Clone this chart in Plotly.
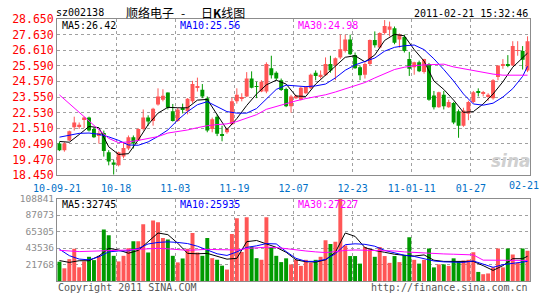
import plotly.graph_objects as go

# ---------------- data ----------------
x_labels = ["10-09-21", "10-18", "11-03", "11-19", "12-07", "12-23", "11-01-11", "01-27"]
x_label_pos = [-0.5, 11.5, 23.5, 35.5, 47.5, 59.5, 71.5, 83.5]
last_label = "02-21"
last_label_pos = 94.3
stock_code = "sz002138"

opens = [20.51, 20.08, 20.72, 21.57, 21.63, 22.10, 22.21, 21.47, 21.00, 21.21,
         19.94, 19.28, 19.09, 19.66, 20.19, 20.93, 20.72, 21.47, 22.21, 21.98,
         23.06, 23.38, 23.85, 22.63, 21.98, 22.80, 22.63, 23.27, 24.16, 24.02,
         23.48, 21.47, 22.27, 21.10, 21.25, 21.78, 23.27, 23.44, 23.59, 24.76,
         24.27, 23.91, 23.91, 25.44, 25.14, 24.65, 24.08, 22.95, 23.48, 23.38,
         23.80, 24.12, 25.14, 24.86, 24.97, 25.71, 25.61, 26.14, 26.56, 27.31,
         26.29, 25.50, 25.01, 25.71, 27.27, 26.78, 27.73, 27.95, 28.05, 27.31,
         27.48, 26.03, 25.50, 25.82, 25.18, 25.71, 23.65, 22.89, 23.70, 22.89,
         23.16, 22.63, 21.68, 22.46, 23.23, 23.95, 23.78, 23.59, 23.48, 24.86,
         25.61, 25.71, 25.61, 26.56, 26.56, 25.29]
highs = [20.62, 20.60, 21.36, 22.27, 21.89, 22.27, 22.27, 21.57, 21.36, 21.36,
         20.08, 19.45, 19.98, 20.62, 21.04, 21.04, 21.51, 22.74, 22.36, 22.85,
         24.12, 24.06, 23.85, 23.10, 22.85, 23.12, 23.48, 24.61, 24.82, 24.40,
         23.59, 22.21, 22.42, 21.68, 21.55, 23.50, 24.12, 23.80, 25.18, 25.23,
         24.55, 24.65, 25.82, 26.25, 25.23, 24.76, 24.16, 23.70, 23.70, 24.23,
         24.27, 25.08, 25.29, 25.29, 26.14, 26.25, 26.14, 27.63, 27.63, 27.63,
         26.46, 25.61, 25.82, 27.31, 27.84, 27.78, 28.58, 28.48, 28.16, 27.70,
         27.63, 26.50, 25.86, 25.93, 26.05, 25.78, 23.95, 23.90, 23.95, 23.38,
         23.23, 22.74, 22.85, 23.31, 23.95, 24.12, 23.95, 23.80, 24.72, 25.61,
         26.03, 26.29, 27.20, 27.20, 26.88, 27.52]
lows = [20.02, 19.98, 20.68, 21.36, 21.47, 21.53, 21.30, 20.87, 20.51, 19.66,
        19.09, 18.49, 19.02, 19.55, 20.08, 20.19, 20.68, 21.36, 21.68, 21.68,
        22.99, 23.27, 22.74, 21.95, 21.93, 22.48, 22.42, 23.17, 23.91, 23.48,
        21.25, 21.25, 21.00, 20.66, 21.15, 21.72, 23.12, 23.27, 23.55, 24.12,
        23.48, 23.87, 23.80, 24.76, 24.65, 23.95, 22.89, 22.53, 23.42, 23.33,
        23.76, 24.08, 24.65, 24.76, 24.93, 25.14, 24.65, 26.03, 26.46, 26.29,
        25.40, 24.65, 24.76, 25.61, 26.78, 26.72, 27.63, 27.52, 27.00, 26.78,
        26.46, 24.93, 25.01, 25.18, 25.08, 23.31, 22.74, 22.85, 22.74, 22.85,
        21.78, 20.89, 21.61, 22.04, 23.16, 23.59, 23.59, 23.31, 23.38, 24.65,
        25.40, 25.50, 25.57, 26.25, 25.35, 25.18]
closes = [20.08, 20.51, 21.32, 21.89, 21.74, 22.21, 21.36, 20.93, 21.21, 20.02,
          19.34, 19.13, 19.94, 20.23, 20.93, 20.51, 21.47, 22.21, 21.95, 22.78,
          23.59, 23.63, 22.85, 21.98, 22.74, 22.74, 23.44, 24.40, 24.23, 23.59,
          21.36, 22.10, 21.15, 21.04, 21.47, 23.27, 23.70, 23.52, 24.76, 24.16,
          24.21, 24.55, 25.71, 24.97, 24.76, 24.01, 22.95, 23.59, 23.63, 24.16,
          24.23, 25.01, 24.93, 25.01, 25.71, 25.29, 26.08, 26.67, 27.31, 26.35,
          25.44, 24.97, 25.71, 27.27, 26.93, 27.73, 28.20, 28.16, 27.10, 27.63,
          26.56, 25.40, 25.82, 25.23, 26.03, 23.38, 22.89, 23.87, 22.95, 23.23,
          21.89, 21.68, 22.68, 23.23, 23.87, 23.87, 23.82, 23.70, 24.65, 25.61,
          25.67, 25.63, 26.88, 26.61, 25.99, 27.20]

volumes = [25500, 16800, 28900, 42800, 18100, 25900, 32000, 27600, 33300, 68200,
           60500, 33300, 25900, 33300, 43200, 52700, 52700, 75200, 37600, 79900,
           77700, 57000, 54800, 33300, 24600, 29800, 42800, 63500, 37600, 33300,
           57000, 30200, 28100, 20300, 15100, 62200, 82900, 38400, 84200, 44900,
           30200, 28100, 84200, 44900, 33300, 25000, 30000, 22000, 28000, 20000,
           28000, 24000, 28000, 32000, 54000, 49000, 52000, 108841, 47000, 33000,
           33000, 23000, 45000, 42000, 32000, 45000, 33000, 24000, 33000, 25000,
           34000, 58000, 28000, 23000, 28000, 43000, 18000, 22000, 22000, 20000,
           30000, 26000, 27000, 28000, 38000, 12000, 9000, 10000, 18000, 43000,
           18000, 43000, 35000, 24000, 43000, 40000]

ma_idx = list(range(0, 96, 2)) + [95]
ma5 = [20.65, 20.60, 21.10, 21.63, 21.55, 20.30, 19.80, 19.85, 20.75, 21.75,
       22.50, 22.88, 22.85, 22.85, 23.35, 23.40, 22.40, 21.42, 22.15, 23.00,
       23.75, 24.35, 24.65, 24.40, 23.62, 23.59, 24.40, 25.00, 25.55, 26.15,
       26.25, 25.85, 26.30, 27.25, 27.65, 27.55, 26.65, 25.90, 24.60, 24.05,
       23.35, 22.55, 22.60, 23.10, 23.75, 24.55, 25.50, 26.08, 26.42]
ma10 = [20.93, 21.08, 21.18, 21.20, 21.12, 20.95, 20.72, 20.42, 20.40, 20.62,
        20.98, 21.40, 22.05, 22.60, 23.05, 23.25, 22.90, 22.60, 22.50, 22.50,
        22.80, 23.40, 24.05, 24.33, 24.28, 24.23, 24.28, 24.40, 24.80, 25.30,
        25.65, 25.85, 26.10, 26.55, 26.80, 26.90, 26.95, 26.65, 26.05, 25.35,
        24.60, 23.75, 23.10, 23.02, 23.15, 23.55, 24.10, 24.90, 25.56]
ma30 = [23.69, 23.12, 22.56, 21.99, 21.42, 20.85, 20.57, 20.62, 20.72, 20.86,
        20.97, 21.20, 21.28, 21.40, 21.55, 21.68, 21.75, 21.80, 21.95, 22.15,
        22.40, 22.75, 22.95, 23.15, 23.30, 23.45, 23.58, 23.70, 23.88, 24.08,
        24.30, 24.50, 24.80, 25.10, 25.35, 25.50, 25.60, 25.65, 25.68, 25.70,
        25.52, 25.40, 25.30, 25.15, 25.05, 24.98, 24.97, 24.96, 24.98]

vma5 = [27000, 24600, 26800, 26800, 33000, 43200, 41000, 36700, 40500, 52000,
        63500, 61300, 50000, 36500, 36000, 36500, 33000, 28900, 30000, 52000,
        53600, 49500, 44500, 38000, 28000, 25500, 25000, 28000, 38000, 63500,
        59000, 44100, 40300, 38000, 35400, 34000, 33000, 34500, 27500, 25900,
        25900, 25900, 25900, 20300, 14000, 20300, 29500, 29500, 32745]
vma10 = [42000, 33500, 29000, 28000, 32000, 38500, 39700, 39900, 43000, 49000,
         51000, 51800, 51000, 49500, 46000, 41000, 36000, 33800, 38500, 44500,
         46500, 49500, 49000, 39000, 30000, 26000, 25900, 28500, 36000, 48000,
         49200, 48500, 46000, 40500, 37000, 34000, 32500, 30000, 26500, 25300,
         24600, 24600, 26500, 22500, 18100, 21600, 23300, 24500, 25935]
vma30 = [40600, 39300, 38900, 39300, 39700, 39700, 40500, 41000, 41900, 43000,
         43200, 42500, 41500, 40600, 41200, 41900, 41500, 41000, 41000, 43000,
         44100, 44700, 44300, 42500, 41000, 39700, 38500, 37600, 38800, 40500,
         41000, 40800, 40500, 40000, 39700, 38500, 37600, 37000, 36300, 35800,
         35400, 35400, 34500, 27600, 27600, 27600, 27600, 27200, 27227]

price_ticks = [18.45 + 1.02 * k for k in range(11)]
vol_ticks = [0, 21768, 43536, 65305, 87073, 108841]
grid_pos = [-0.5 + 12 * k for k in range(9)]

# ---------------- styling ----------------
RED = "#FF5656"
GREEN = "#009A00"
MONO = "DejaVu Sans Mono"
idx = list(range(len(closes)))
up = [c >= o for o, c in zip(opens, closes)]
colors = [RED if u else GREEN for u in up]

fig = go.Figure()

# wicks
for col, flag in ((RED, True), (GREEN, False)):
    wx, wy = [], []
    for i in idx:
        if up[i] == flag:
            wx += [i, i, None]
            wy += [lows[i], highs[i], None]
    fig.add_trace(go.Scatter(x=wx, y=wy, mode="lines", line=dict(color=col, width=1),
                             hoverinfo="skip", showlegend=False, xaxis="x", yaxis="y"))

# bodies
base = [min(o, c) for o, c in zip(opens, closes)]
height = [max(abs(c - o), 0.06) for o, c in zip(opens, closes)]
fig.add_trace(go.Bar(x=idx, y=height, base=base, width=0.8, marker=dict(color=colors, line=dict(width=0)),
                     showlegend=False, xaxis="x", yaxis="y"))

# MAs
for arr, col in ((ma5, "#000000"), (ma10, "#0000FF"), (ma30, "#FF00FF")):
    fig.add_trace(go.Scatter(x=ma_idx, y=arr, mode="lines", line=dict(color=col, width=1),
                             showlegend=False, xaxis="x", yaxis="y"))

# volume
fig.add_trace(go.Bar(x=idx, y=volumes, width=0.8, marker=dict(color=colors, line=dict(width=0)),
                     showlegend=False, xaxis="x2", yaxis="y2"))
for arr, col in ((vma5, "#000000"), (vma10, "#0000FF"), (vma30, "#FF00FF")):
    fig.add_trace(go.Scatter(x=ma_idx, y=arr, mode="lines", line=dict(color=col, width=1),
                             showlegend=False, xaxis="x2", yaxis="y2"))

L, R, T, B = 50, 15, 17, 14
W, H = 545, 300
PW, PH = W - L - R, H - T - B


def px(x):
    return (x - L) / PW


def py(y):
    return (H - B - y) / PH


grid = dict(showgrid=True, gridcolor="#A0A0A0", griddash="dot", gridwidth=1, zeroline=False,
            showline=True, mirror=True, linecolor="#8C8C8C", linewidth=1, ticks="")
fig.update_layout(
    width=W, height=H, margin=dict(l=L, r=R, t=T, b=B),
    paper_bgcolor="white", plot_bgcolor="white", barmode="overlay", showlegend=False,
    hovermode=False,
    xaxis=dict(domain=[0, 1], range=[-0.5, 95.5], anchor="y", tickvals=x_label_pos, ticktext=x_labels,
               tickfont=dict(family=MONO, size=10, color="#0070C8"), ticklabelstandoff=4, **grid),
    yaxis=dict(domain=[py(177.3), 1], range=[18.45, 28.65], anchor="x", tickvals=price_ticks,
               ticktext=[f"{v:.3f}" for v in price_ticks],
               tickfont=dict(family=MONO, size=11.5, color="#FF0000"), **grid),
    xaxis2=dict(domain=[0, 1], range=[-0.5, 95.5], anchor="y2", tickvals=grid_pos,
                showticklabels=False, **grid),
    yaxis2=dict(domain=[0, py(201.5)], range=[0, 108841], anchor="x2", tickvals=vol_ticks,
                ticktext=[""] + [str(v) for v in vol_ticks[1:]],
                tickfont=dict(family=MONO, size=9.5, color="#8C8C8C"), **grid),
)


def txt(s, x, y, color="#000", size=10, anchor="left", family=MONO):
    fig.add_annotation(text=s, x=px(x), y=py(y), xref="paper", yref="paper", showarrow=False,
                       xanchor=anchor, yanchor="middle", font=dict(family=family, size=size, color=color))


# last x label (kept inside the page, as in the original)
fig.add_annotation(text=last_label, x=last_label_pos, y=py(188), xref="x", yref="paper", showarrow=False,
                   xanchor="center", yanchor="middle", font=dict(family=MONO, size=10, color="#0070C8"))

txt(stock_code, 100, 10.5, anchor="right")
txt("顺络电子", 118, 10, size=12, family="Noto Sans CJK SC")
txt("-", 178, 10, size=12, anchor="center", family="Noto Sans CJK SC")
txt("日<b>K</b>线图", 194, 10, size=12, family="Noto Sans CJK SC")
txt("2011-02-21 15:32:46", 530, 11, anchor="right")
txt("MA5:26.42", 53, 24)
txt("MA10:25.56", 173, 24, color="#0000FF")
txt("MA30:24.98", 293, 24, color="#FF00FF")
txt("MA5:32745", 53, 207)
txt("MA10:25935", 173, 207, color="#0000FF")
txt("MA30:27227", 293, 207, color="#FF00FF")
txt("Copyright 2011 SINA.COM", 49, 293, color="#555555")
txt("http://finance.sina.com.cn", 530, 293, color="#555555", anchor="right")
txt("<i><b>sina</b></i>", 511, 163, color="#D0D0D0", size=17, anchor="center", family="DejaVu Sans")

fig.write_html("out.html")
